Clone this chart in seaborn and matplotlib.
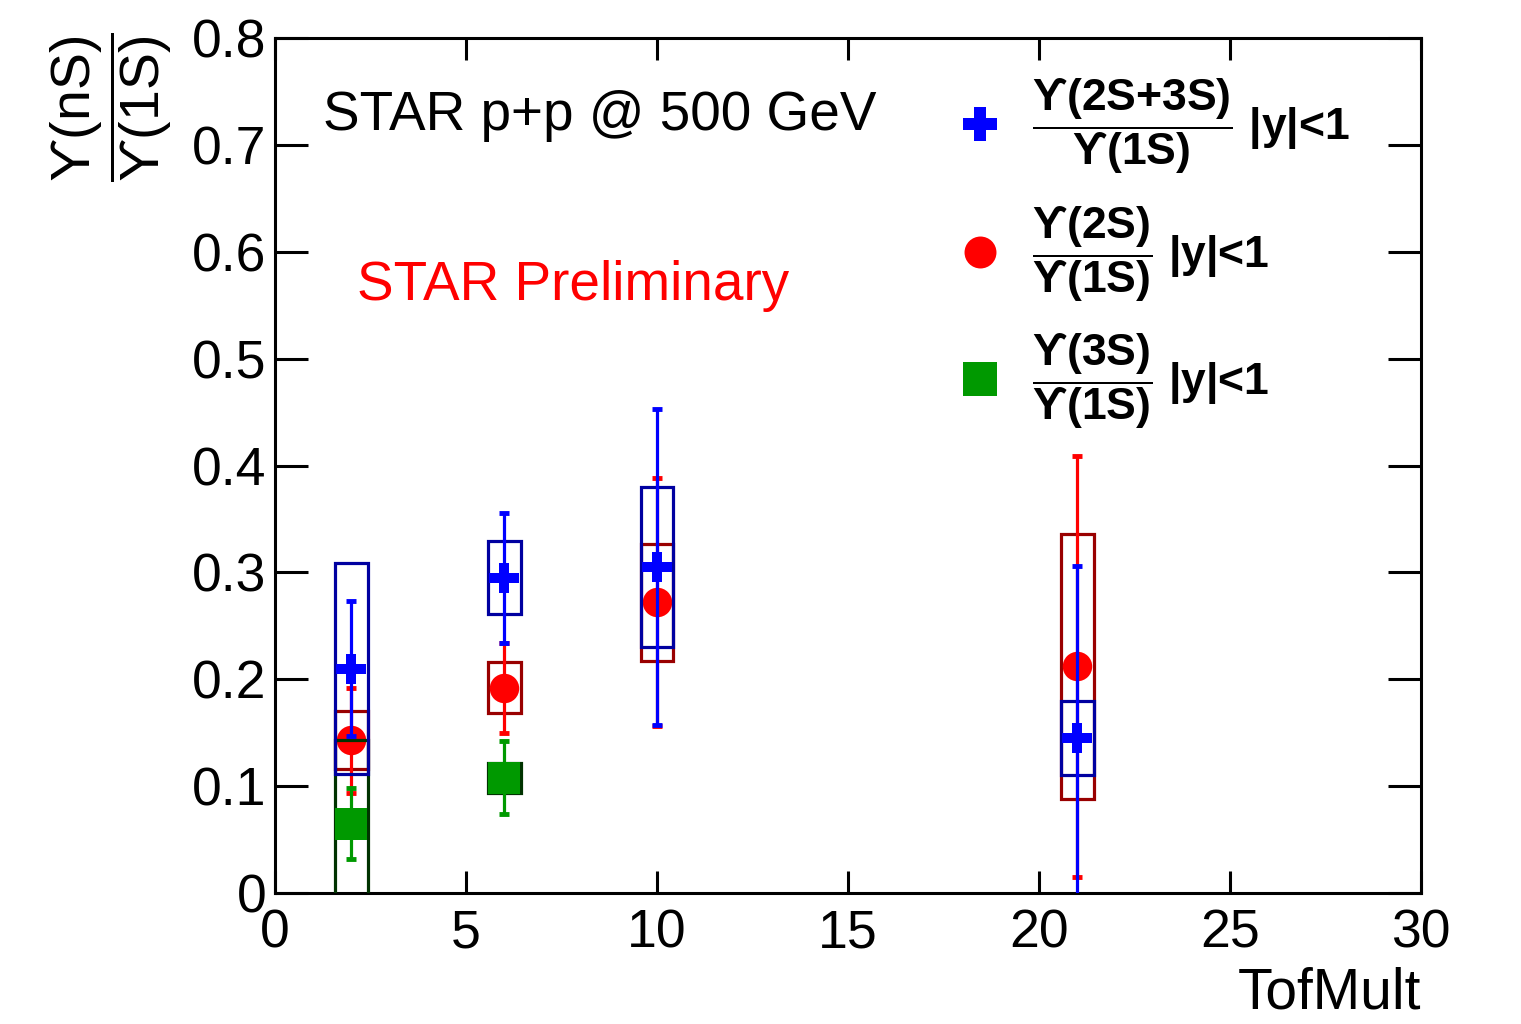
import numpy as np
import matplotlib
matplotlib.use("Agg")
import matplotlib.pyplot as plt
import seaborn as sns
from matplotlib.patches import Rectangle
from matplotlib.lines import Line2D

# values
tof = [2, 6, 10, 21]

r23 = [0.210, 0.295, 0.305, 0.145]
r23_stat = [0.063, 0.061, 0.148, 0.161]
r23_sys = [0.099, 0.034, 0.075, 0.035]

r2 = [0.143, 0.192, 0.272, 0.212]
r2_stat = [0.049, 0.042, 0.116, 0.197]
r2_sys = [0.027, 0.024, 0.055, 0.124]

tof3 = [2, 6]
r3 = [0.065, 0.108]
r3_stat = [0.033, 0.034]
r3_sys = [0.078, 0.014]

xticks = [0, 5, 10, 15, 20, 25, 30]
yticks = [0, 0.1, 0.2, 0.3, 0.4, 0.5, 0.6, 0.7, 0.8]
ytick_labels = ["0", "0.1", "0.2", "0.3", "0.4", "0.5", "0.6", "0.7", "0.8"]

sns.set_theme(style="ticks")
plt.rcParams['font.family'] = ['Liberation Sans', 'DejaVu Sans']
plt.rcParams['text.color'] = 'black'
plt.rcParams['axes.labelcolor'] = 'black'
plt.rcParams['mathtext.fontset'] = 'custom'
plt.rcParams['mathtext.rm'] = 'Liberation Sans'
plt.rcParams['mathtext.it'] = 'Liberation Sans:italic'
plt.rcParams['mathtext.bf'] = 'Liberation Sans:bold'
plt.rcParams['mathtext.fallback'] = 'stix'

fig = plt.figure(figsize=(15.21, 10.24), dpi=100)
ax = fig.add_axes([0.1808, 0.1279, 0.7535, 0.835])

box_w = 0.86


def draw_series(x, y, stat, sys_, mcol, bcol, marker, s, z):
    # systematic boxes
    for xi, yi, si in zip(x, y, sys_):
        ax.add_patch(Rectangle((xi - box_w / 2, yi - si), box_w, 2 * si,
                               fill=False, edgecolor=bcol, linewidth=2.3, zorder=z))
    # statistical errors
    ax.errorbar(x, y, yerr=stat, fmt='none', ecolor=mcol, elinewidth=2.3,
                capsize=3.5, capthick=3.5, zorder=z + 0.1)
    sns.scatterplot(x=x, y=y, ax=ax, marker=marker, s=s, color=mcol,
                    linewidth=0, zorder=z + 0.2)


draw_series(tof, r2, r2_stat, r2_sys, 'red', '#990000', 'o', 450, 3)
draw_series(tof3, r3, r3_stat, r3_sys, '#009900', '#003300', 's', 520, 4)
draw_series(tof, r23, r23_stat, r23_sys, 'blue', '#0000a0', 'P', 480, 5)

ax.set_xlim(0, 30)
ax.set_ylim(0, 0.8)
ax.set_xticks(xticks)
ax.set_xticklabels([str(t) for t in xticks])
ax.set_yticks(yticks)
ax.set_yticklabels(ytick_labels)
ax.minorticks_off()
ax.tick_params(axis='both', direction='in', top=True, right=True, width=2.2,
               labelsize=38.5, colors='black')
ax.tick_params(axis='x', length=16, pad=11)
ax.tick_params(axis='y', length=24, pad=6)
for sp in ax.spines.values():
    sp.set_visible(True)
    sp.set_linewidth(2.2)
    sp.set_color('black')

ax.set_xlabel('TofMult', fontsize=41, ha='right', va='bottom')
ax.xaxis.set_label_coords(1.0, -0.149)
fig.text(0.073, 0.968, r'$\dfrac{\mathrm{ϒ(nS)}}{\mathrm{ϒ(1S)}}$',
         rotation=90, ha='center', va='top', fontsize=40)

ax.text(1.26, 0.714, 'STAR p+p @ 500 GeV', fontsize=39.5, color='black')
ax.text(2.15, 0.555, 'STAR Preliminary', fontsize=39.5, color='red')

handles = [
    Line2D([], [], marker='P', color='blue', ls='none', markersize=25, markeredgewidth=0),
    Line2D([], [], marker='o', color='red', ls='none', markersize=23, markeredgewidth=0),
    Line2D([], [], marker='s', color='#009900', ls='none', markersize=25, markeredgewidth=0),
]
labels = [
    r'$\dfrac{\mathbf{ϒ(2S{+}3S)}}{\mathbf{ϒ(1S)}}$ |y|<1',
    r'$\dfrac{\mathbf{ϒ(2S)}}{\mathbf{ϒ(1S)}}$ |y|<1',
    r'$\dfrac{\mathbf{ϒ(3S)}}{\mathbf{ϒ(1S)}}$ |y|<1',
]
leg = ax.legend(handles, labels, loc='upper left', bbox_to_anchor=(0.592, 0.955),
                frameon=False, prop={'size': 32, 'weight': 'bold'},
                handlelength=1.2, handletextpad=0.56,
                labelspacing=0.62, borderpad=0, borderaxespad=0)
for t in leg.get_texts():
    t.set_color('black')

fig.savefig('out.png', dpi=100)
